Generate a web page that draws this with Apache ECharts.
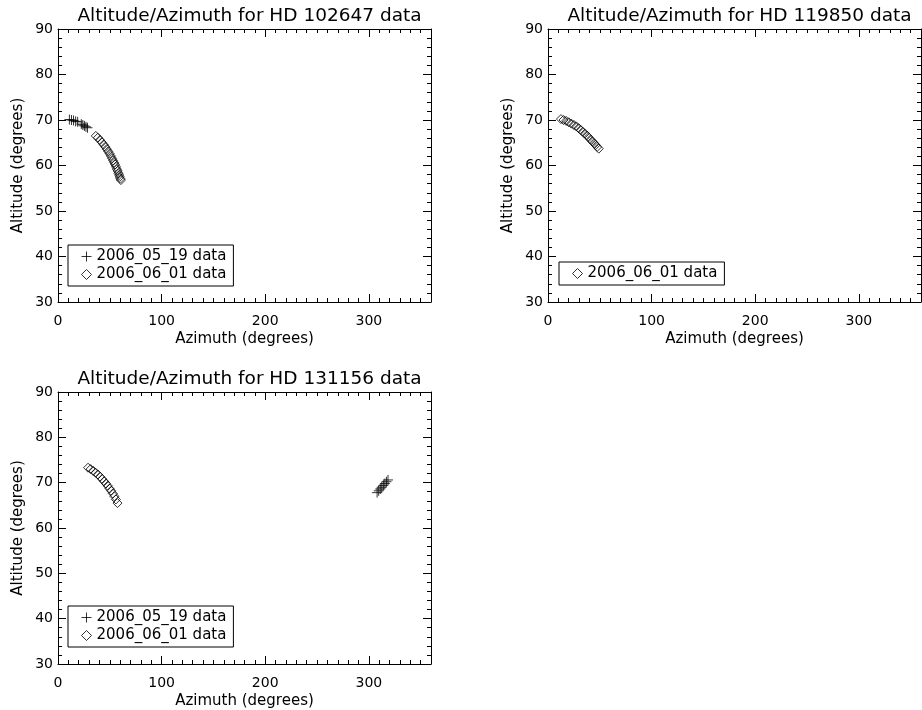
<!DOCTYPE html>
<html><head><meta charset="utf-8">
<script src="https://cdn.jsdelivr.net/npm/echarts@6/dist/echarts.min.js"></script>
<style>html,body{margin:0;padding:0;background:#fff}#c{width:922px;height:710px}</style>
</head><body><div id="c"></div>
<script>
// ---- data ----
const panelTitles = ['Altitude/Azimuth for HD 102647 data', 'Altitude/Azimuth for HD 119850 data', 'Altitude/Azimuth for HD 131156 data'];
const seriesNames = ['2006_05_19 data', '2006_06_01 data'];
const xTickValues = [0, 100, 200, 300];
const xMinorValues = [0,10,20,30,40,50,60,70,80,90,100,110,120,130,140,150,160,170,180,190,200,210,220,230,240,250,260,270,280,290,300,310,320,330,340,350,360];
const yTickValues = [30, 40, 50, 60, 70, 80, 90];
const yMinorValues = [30,32,34,36,38,40,42,44,46,48,50,52,54,56,58,60,62,64,66,68,70,72,74,76,78,80,82,84,86,88,90];

// HD 102647
const p1PlusAz  = [11, 13, 15, 17, 19, 22.5, 24, 25.5, 27, 28.5];
const p1PlusAlt = [70.1, 70.0, 69.9, 69.7, 69.6, 69.1, 68.9, 68.7, 68.5, 68.3];
const p1DiaAz   = [36.5, 38.5, 40.5, 42.3, 44.0, 45.6, 47.1, 48.5, 49.8, 51.0, 52.1, 53.2, 54.2, 55.1, 56.0, 56.8, 57.6, 58.3, 59.0, 59.6, 60.2, 60.7];
const p1DiaAlt  = [66.5, 66.1, 65.6, 65.1, 64.6, 64.1, 63.6, 63.1, 62.6, 62.1, 61.6, 61.1, 60.6, 60.2, 59.7, 59.2, 58.8, 58.3, 57.9, 57.5, 57.1, 56.8];
// HD 119850
const p2DiaAz   = [12.5, 15, 17.5, 20, 22.5, 25, 27.3, 29.5, 31.6, 33.6, 35.5, 37.4, 39.2, 41, 42.7, 44.4, 46, 47.5, 49];
const p2DiaAlt  = [70.2, 70.0, 69.8, 69.5, 69.2, 68.9, 68.6, 68.2, 67.8, 67.4, 67.0, 66.6, 66.2, 65.7, 65.3, 64.9, 64.5, 64.1, 63.7];
// HD 131156
const p3PlusAz  = [308, 309.5, 311, 312.5, 314, 315.5, 317, 318.5];
const p3PlusAlt = [67.8, 68.2, 68.6, 69.0, 69.4, 69.8, 70.2, 70.6];
const p3DiaAz   = [29, 31.5, 34, 36.3, 38.5, 40.6, 42.6, 44.5, 46.3, 48, 49.7, 51.3, 52.9, 54.4, 55.9, 57.4];
const p3DiaAlt  = [73.3, 73.0, 72.6, 72.2, 71.8, 71.3, 70.8, 70.3, 69.8, 69.3, 68.7, 68.2, 67.6, 67.0, 66.3, 65.5];

// ---- layout / style ----
const FONT = 'DejaVu Sans';
const PLUS = 'path://M0,5L10,5M5,0L5,10';
const grids = [
  {left: 58, top: 29, width: 373, height: 273},
  {left: 548, top: 29, width: 373, height: 273},
  {left: 58, top: 392, width: 373, height: 273}
];
const legendPos = [
  {left: 68, top: 245, names: [0, 1]},
  {left: 559, top: 262, names: [1]},
  {left: 68, top: 606, names: [0, 1]}
];

const zip = (a, b) => a.map((v, i) => [v, b[i]]);
const panelSeries = [
  [[0, zip(p1PlusAz, p1PlusAlt)], [1, zip(p1DiaAz, p1DiaAlt)]],
  [[1, zip(p2DiaAz, p2DiaAlt)]],
  [[0, zip(p3PlusAz, p3PlusAlt)], [1, zip(p3DiaAz, p3DiaAlt)]]
];

const xAxes = [], yAxes = [], series = [], titles = [], legends = [];
const black = '#000';

function mkAxis(isX, g, pos, major, withLabel, name) {
  const a = {
    type: 'value', gridIndex: g, position: pos,
    min: isX ? 0 : 30, max: isX ? 360 : 90,
    splitLine: {show: false},
    axisLine: {show: major, onZero: false, lineStyle: {color: black, width: 1}},
    axisTick: {show: true, inside: true, length: major ? 8 : 4,
      lineStyle: {color: black, width: 1},
      customValues: major ? (isX ? xTickValues : yTickValues) : (isX ? xMinorValues : yMinorValues)},
    axisLabel: {show: withLabel, color: black, fontFamily: FONT, fontSize: 14,
      margin: isX ? 12 : 5,
      customValues: isX ? xTickValues : yTickValues},
    silent: true
  };
  if (name) {
    a.name = name; a.nameLocation = 'middle';
    a.nameGap = isX ? 30 : 32;
    a.nameTextStyle = {color: black, fontFamily: FONT, fontSize: 15};
  }
  return a;
}

grids.forEach((gr, g) => {
  const xi = xAxes.length, yi = yAxes.length;
  xAxes.push(mkAxis(true, g, 'bottom', true, true, 'Azimuth (degrees)'));
  xAxes.push(mkAxis(true, g, 'bottom', false, false));
  xAxes.push(mkAxis(true, g, 'top', true, false));
  xAxes.push(mkAxis(true, g, 'top', false, false));
  yAxes.push(mkAxis(false, g, 'left', true, true, 'Altitude (degrees)'));
  yAxes.push(mkAxis(false, g, 'left', false, false));
  yAxes.push(mkAxis(false, g, 'right', true, false));
  yAxes.push(mkAxis(false, g, 'right', false, false));
  panelSeries[g].forEach(([si, data]) => {
    series.push({
      type: 'scatter', name: seriesNames[si], xAxisIndex: xi, yAxisIndex: yi,
      data: data, symbol: si === 0 ? PLUS : 'diamond', symbolSize: si === 0 ? 10 : 9,
      itemStyle: {color: 'transparent', borderColor: black, borderWidth: 1},
      emphasis: {disabled: true}, silent: true, animation: false
    });
  });
  titles.push({
    text: panelTitles[g], left: gr.left + gr.width / 2, top: gr.top - 27, textAlign: 'center',
    textStyle: {color: black, fontFamily: FONT, fontSize: 18.5, fontWeight: 'normal'}
  });
  const lp = legendPos[g];
  legends.push({
    left: lp.left, top: lp.top, orient: 'vertical', selectedMode: false,
    borderColor: black, borderWidth: 1, borderRadius: 0,
    padding: [4, 7, 4, 13], itemGap: 3, itemWidth: 10, itemHeight: 10,
    textStyle: {color: black, fontFamily: FONT, fontSize: 15},
    data: lp.names.map(si => ({
      name: seriesNames[si], icon: si === 0 ? PLUS : 'diamond',
      itemStyle: {color: 'transparent', borderColor: black, borderWidth: 1}
    }))
  });
});

const chart = echarts.init(document.getElementById('c'), null, {renderer: 'canvas'});
chart.setOption({
  backgroundColor: '#fff', animation: false,
  title: titles, legend: legends, grid: grids,
  xAxis: xAxes, yAxis: yAxes, series: series
});
</script></body></html>
